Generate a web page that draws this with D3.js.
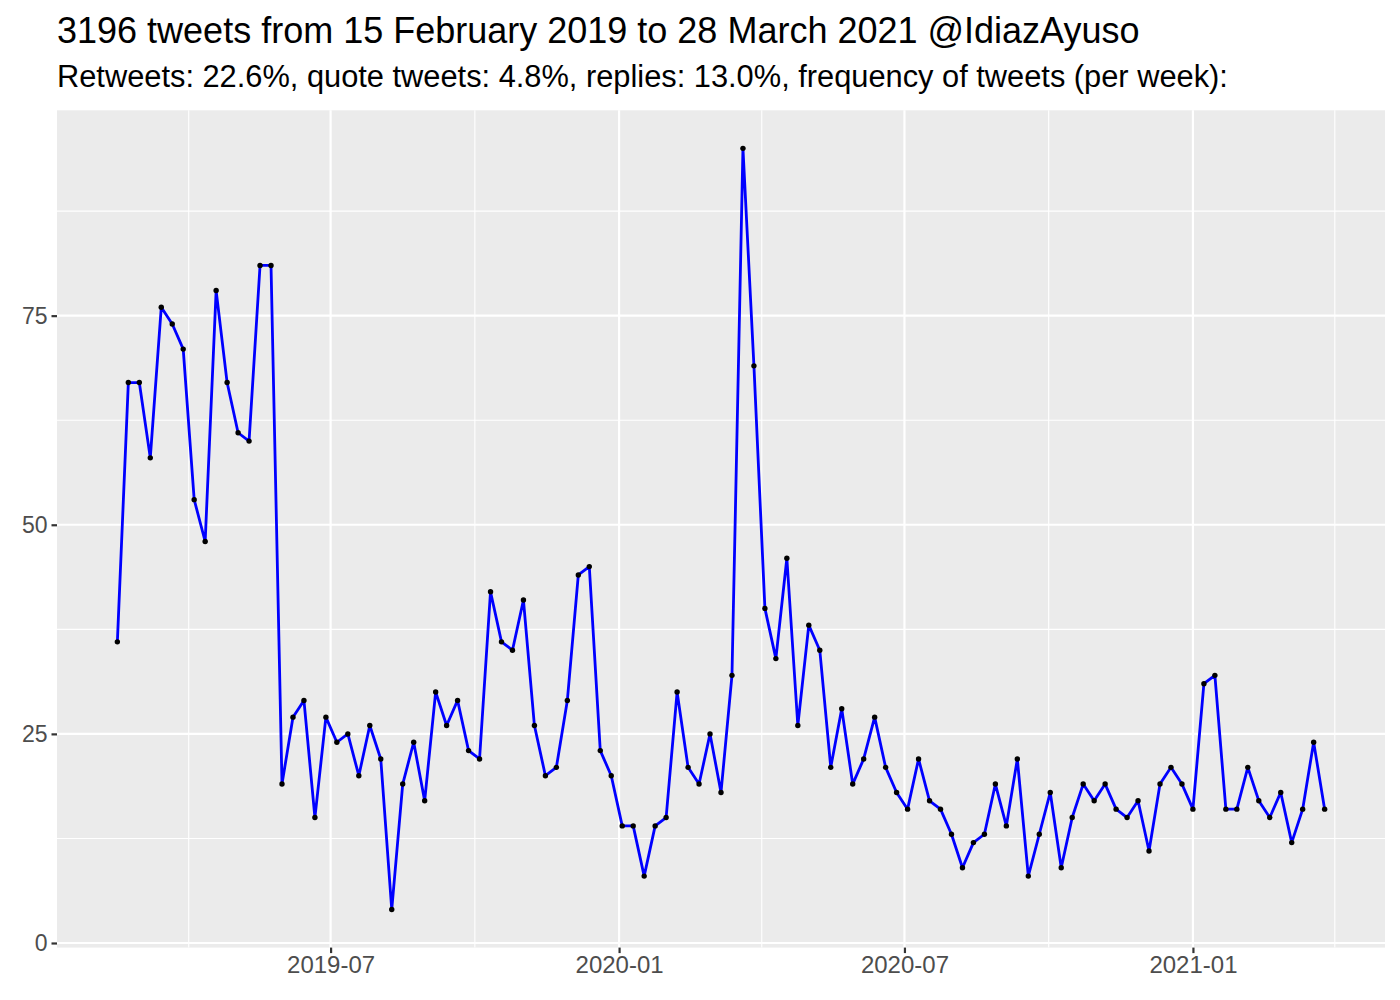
<!DOCTYPE html>
<html>
<head>
<meta charset="utf-8">
<script src="https://cdn.jsdelivr.net/npm/d3@7"></script>
<style>
  html, body { margin: 0; padding: 0; background: #fff; }
  svg { display: block; }
  text { font-family: "Liberation Sans", Arial, Helvetica, sans-serif; }
</style>
</head>
<body>
<svg id="chart" width="1400" height="1000"></svg>
<script>
const titleText = "3196 tweets from 15 February 2019 to 28 March 2021 @IdiazAyuso";
const subtitleText = "Retweets: 22.6%, quote tweets: 4.8%, replies: 13.0%, frequency of tweets (per week):";

const startDate = "2019-02-15";   // first weekly bin
const binDays = 7;
const weeklyCounts = [
  36, 67, 67, 58, 76, 74, 71, 53, 48, 78, 67, 61, 60, 81, 81,
  19, 27, 29, 15, 27, 24, 25, 20, 26, 22, 4, 19, 24, 17, 30, 26, 29, 23, 22,
  42, 36, 35, 41, 26, 20, 21, 29, 44, 45, 23, 20, 14, 14, 8, 14, 15, 30, 21, 19, 25, 18, 32,
  95, 69, 40, 34, 46, 26, 38, 35, 21, 28, 19, 22, 27, 21, 18, 16,
  22, 17, 16, 13, 9, 12, 13, 19, 14, 22, 8, 13, 18, 9, 15, 19, 17, 19, 16, 15, 17, 11, 19, 21, 19, 16,
  31, 32, 16, 16, 21, 17, 15, 18, 12, 16, 24, 16
];
const yTicks = [0, 25, 50, 75];
const yMinor = [12.5, 37.5, 62.5, 87.5];
const xTickLabels = ["2019-07", "2020-01", "2020-07", "2021-01"];
const xMinorDates = ["2019-01-01", "2019-07-01", "2020-01-01", "2020-07-01", "2021-01-01", "2021-07-01"];

const parse = d3.utcParse("%Y-%m-%d");
const t0 = parse(startDate);
const data = weeklyCounts.map((v, i) => ({ date: d3.utcDay.offset(t0, i * binDays), value: v }));

const svg = d3.select("#chart");
const panel = { left: 57, right: 1385, top: 110.3, bottom: 947.6 };

// scales with ggplot-style 5% expansion
const xExt = d3.extent(data, d => d.date);
const xSpan = xExt[1] - xExt[0];
const x = d3.scaleUtc()
  .domain([new Date(+xExt[0] - 0.05 * xSpan), new Date(+xExt[1] + 0.05 * xSpan)])
  .range([panel.left, panel.right]);
const yExt = d3.extent(data, d => d.value);
const ySpan = yExt[1] - yExt[0];
const y = d3.scaleLinear()
  .domain([yExt[0] - 0.05 * ySpan, yExt[1] + 0.05 * ySpan])
  .range([panel.bottom, panel.top]);

// panel background
svg.append("rect")
  .attr("x", panel.left).attr("y", panel.top)
  .attr("width", panel.right - panel.left).attr("height", panel.bottom - panel.top)
  .attr("fill", "#EBEBEB");

const grid = svg.append("g");
const xMajor = xTickLabels.map(s => parse(s + "-01"));
const xMinorBase = xMinorDates.map(parse);
const xMinorPts = d3.pairs(xMinorBase).map(([a, b]) => new Date((+a + +b) / 2))
  .filter(d => x(d) > panel.left && x(d) < panel.right);
grid.selectAll(".ymin").data(yMinor).join("line")
  .attr("x1", panel.left).attr("x2", panel.right)
  .attr("y1", d => y(d)).attr("y2", d => y(d))
  .attr("stroke", "#fff").attr("stroke-width", 1.1);
grid.selectAll(".xmin").data(xMinorPts).join("line")
  .attr("x1", d => x(d)).attr("x2", d => x(d))
  .attr("y1", panel.top).attr("y2", panel.bottom)
  .attr("stroke", "#fff").attr("stroke-width", 1.1);
grid.selectAll(".ymaj").data(yTicks).join("line")
  .attr("x1", panel.left).attr("x2", panel.right)
  .attr("y1", d => y(d)).attr("y2", d => y(d))
  .attr("stroke", "#fff").attr("stroke-width", 2.2);
grid.selectAll(".xmaj").data(xMajor).join("line")
  .attr("x1", d => x(d)).attr("x2", d => x(d))
  .attr("y1", panel.top).attr("y2", panel.bottom)
  .attr("stroke", "#fff").attr("stroke-width", 2.2);

// line and points
const line = d3.line().x(d => x(d.date)).y(d => y(d.value));
svg.append("path").datum(data)
  .attr("d", line)
  .attr("fill", "none")
  .attr("stroke", "#0000FF")
  .attr("stroke-width", 2.8)
  .attr("stroke-linejoin", "round");
svg.append("g").selectAll("circle").data(data).join("circle")
  .attr("cx", d => x(d.date)).attr("cy", d => y(d.value))
  .attr("r", 2.7).attr("fill", "#000");

// axes
const yAxis = d3.axisLeft(y).tickValues(yTicks).tickSize(5.5).tickPadding(4);
const gy = svg.append("g").attr("transform", `translate(${panel.left},0)`).call(yAxis);
gy.select(".domain").remove();
gy.selectAll(".tick line").attr("stroke", "#333333").attr("stroke-width", 2.2);
gy.selectAll(".tick text").attr("fill", "#4D4D4D").style("font-size", "23px");

const xAxis = d3.axisBottom(x).tickValues(xMajor).tickFormat(d3.utcFormat("%Y-%m")).tickSize(5.5).tickPadding(3);
const gx = svg.append("g").attr("transform", `translate(0,${panel.bottom})`).call(xAxis);
gx.select(".domain").remove();
gx.selectAll(".tick line").attr("stroke", "#333333").attr("stroke-width", 2.2);
gx.selectAll(".tick text").attr("fill", "#4D4D4D").style("font-size", "24px");

// titles
svg.append("text").attr("x", 57).attr("y", 43)
  .style("font-size", "36px").attr("fill", "#000").text(titleText);
svg.append("text").attr("x", 57).attr("y", 87)
  .style("font-size", "30.8px").attr("fill", "#000").text(subtitleText);
</script>
</body>
</html>
